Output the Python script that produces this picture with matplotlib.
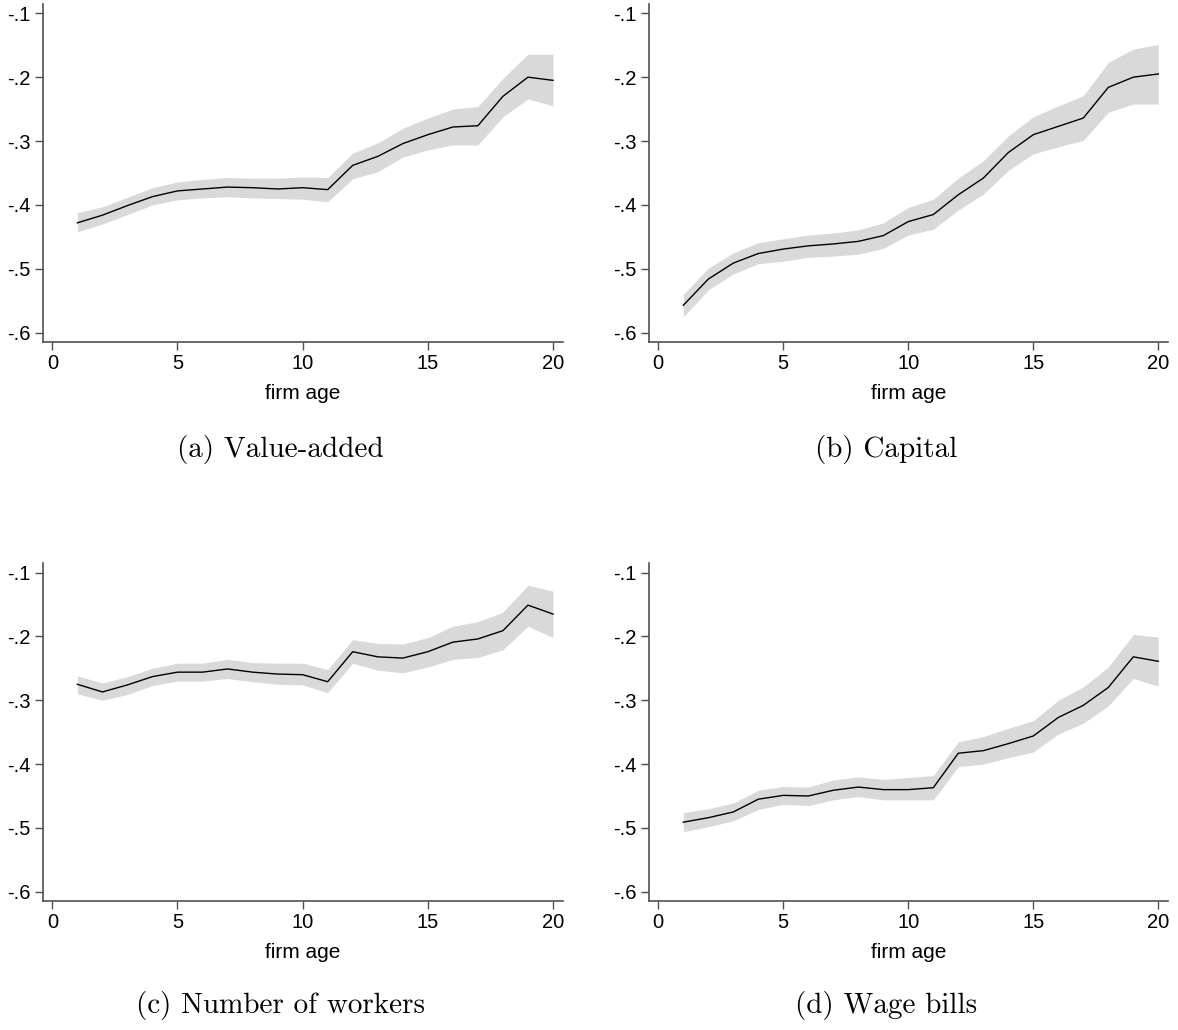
import matplotlib
matplotlib.use("Agg")
import matplotlib.pyplot as plt
import numpy as np

plt.rcParams['font.family'] = ['Liberation Sans', 'DejaVu Sans']

age = np.arange(1, 21)

# (a) value-added
va = [-0.428, -0.416, -0.401, -0.387, -0.378, -0.375, -0.372, -0.373, -0.375, -0.373,
      -0.376, -0.338, -0.324, -0.304, -0.290, -0.278, -0.276, -0.230, -0.200, -0.205]
va_hi = [-0.412, -0.403, -0.388, -0.373, -0.364, -0.360, -0.357, -0.358, -0.358, -0.356,
         -0.357, -0.319, -0.303, -0.280, -0.264, -0.250, -0.246, -0.202, -0.164, -0.164]
va_lo = [-0.442, -0.430, -0.415, -0.400, -0.392, -0.389, -0.387, -0.389, -0.390, -0.391,
         -0.395, -0.359, -0.348, -0.325, -0.314, -0.306, -0.306, -0.262, -0.234, -0.245]

# (b) capital
cap = [-0.557, -0.516, -0.491, -0.476, -0.469, -0.464, -0.461, -0.457, -0.448, -0.426,
       -0.415, -0.384, -0.358, -0.318, -0.290, -0.277, -0.264, -0.216, -0.200, -0.195]
cap_hi = [-0.540, -0.499, -0.475, -0.459, -0.453, -0.447, -0.444, -0.439, -0.428, -0.404,
          -0.391, -0.358, -0.331, -0.292, -0.262, -0.245, -0.229, -0.177, -0.156, -0.149]
cap_lo = [-0.575, -0.533, -0.508, -0.492, -0.488, -0.482, -0.480, -0.477, -0.468, -0.447,
          -0.438, -0.408, -0.383, -0.346, -0.320, -0.309, -0.299, -0.255, -0.242, -0.242]

# (c) number of workers
wrk = [-0.275, -0.287, -0.276, -0.263, -0.256, -0.256, -0.251, -0.256, -0.259, -0.260,
       -0.271, -0.224, -0.232, -0.234, -0.224, -0.209, -0.204, -0.191, -0.151, -0.165]
wrk_hi = [-0.262, -0.273, -0.263, -0.250, -0.242, -0.242, -0.236, -0.241, -0.242, -0.242,
          -0.252, -0.205, -0.211, -0.212, -0.202, -0.184, -0.177, -0.162, -0.120, -0.129]
wrk_lo = [-0.290, -0.300, -0.291, -0.277, -0.270, -0.270, -0.266, -0.271, -0.275, -0.276,
          -0.288, -0.242, -0.253, -0.257, -0.248, -0.236, -0.233, -0.221, -0.184, -0.202]

# (d) wage bills
wage = [-0.491, -0.484, -0.475, -0.455, -0.449, -0.450, -0.441, -0.436, -0.440, -0.440,
        -0.437, -0.383, -0.379, -0.368, -0.356, -0.327, -0.308, -0.280, -0.232, -0.239]
wage_hi = [-0.476, -0.470, -0.461, -0.441, -0.435, -0.436, -0.425, -0.420, -0.424, -0.421,
           -0.418, -0.365, -0.357, -0.344, -0.332, -0.300, -0.279, -0.248, -0.197, -0.201]
wage_lo = [-0.506, -0.498, -0.489, -0.471, -0.463, -0.465, -0.456, -0.451, -0.456, -0.456,
           -0.456, -0.404, -0.400, -0.390, -0.381, -0.353, -0.336, -0.309, -0.266, -0.278]

captions = ['(a) Value-added', '(b) Capital', '(c) Number of workers', '(d) Wage bills']
yticks = [-0.1, -0.2, -0.3, -0.4, -0.5, -0.6]
ytick_labels = ['-.1', '-.2', '-.3', '-.4', '-.5', '-.6']
xticks = [0, 5, 10, 15, 20]

panels = [(va, va_lo, va_hi), (cap, cap_lo, cap_hi),
          (wrk, wrk_lo, wrk_hi), (wage, wage_lo, wage_hi)]

W, H = 1178, 1030
fig = plt.figure(figsize=(W / 100, H / 100), dpi=100)

# axes boxes in pixels: left, top, right, bottom
boxes = [(43, 4, 563, 341.7), (649, 4, 1168.3, 341.7),
         (43, 563.3, 563, 900.7), (649, 563.3, 1168.3, 900.7)]
cap_pos = [(280, 450), (886, 450), (280, 1005), (886, 1005)]

spine_col = '#505050'
for k, (est, lo, hi) in enumerate(panels):
    l, t, r, b = boxes[k]
    ax = fig.add_axes([l / W, 1 - b / H, (r - l) / W, (b - t) / H])
    ax.fill_between(age, lo, hi, color='#d9d9d9', linewidth=0)
    ax.plot(age, est, color='black', linewidth=1.0)
    ax.set_xlim(-0.372, 20.4)
    ax.set_ylim(-0.614, -0.0855)
    ax.set_xticks(xticks)
    ax.set_yticks(yticks)
    ax.set_yticklabels(ytick_labels)
    ax.tick_params(labelsize=14.5, length=6, width=1, color=spine_col, pad=3)
    ax.spines['top'].set_visible(False)
    ax.spines['right'].set_visible(False)
    for s in ['left', 'bottom']:
        ax.spines[s].set_color(spine_col)
        ax.spines[s].set_linewidth(1.2)
    ax.set_xlabel('firm age', fontsize=15, labelpad=8)
    cx, cy = cap_pos[k]
    fig.text(cx / W, 1 - cy / H, captions[k], family=['cmr10', 'DejaVu Serif'],
             fontsize=21, ha='center', va='center')

fig.savefig('out.png', dpi=100)
